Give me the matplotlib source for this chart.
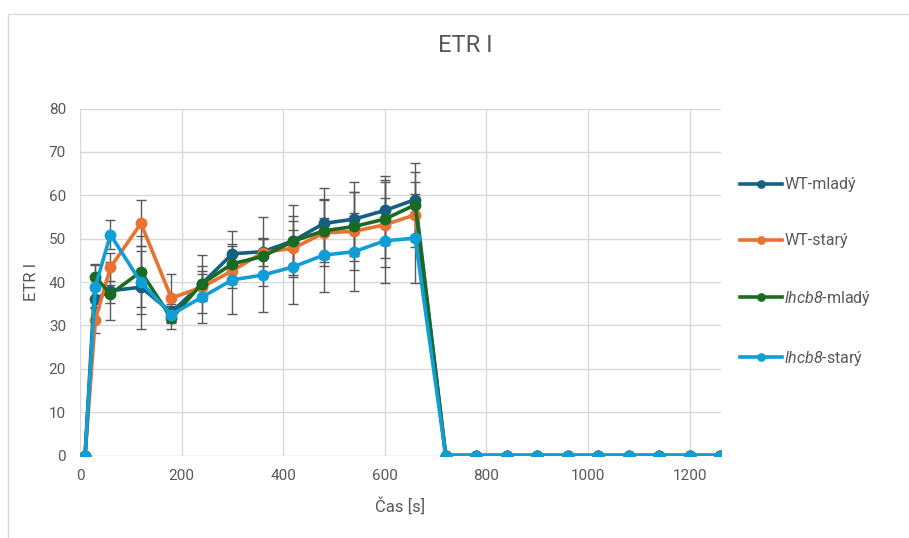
import matplotlib
matplotlib.use("Agg")
import matplotlib.pyplot as plt
from matplotlib.patches import Rectangle

plt.rcParams['font.family'] = ['Roboto', 'DejaVu Sans']
plt.rcParams['mathtext.fontset'] = 'custom'
plt.rcParams['mathtext.sf'] = 'Roboto:italic'
plt.rcParams['mathtext.it'] = 'Roboto:italic'
plt.rcParams['mathtext.rm'] = 'Roboto'

time_s = [10, 30, 60, 120, 180, 240, 300, 360, 420, 480, 540, 600, 660,
          720, 780, 840, 900, 960, 1020, 1080, 1140, 1200, 1260]

wt_mlady = [0, 36.0, 38.0, 38.8, 33.0, 39.6, 46.5, 47.0, 49.5, 53.5, 54.5, 56.5, 59.0,
            0, 0, 0, 0, 0, 0, 0, 0, 0, 0]
wt_stary = [0, 31.3, 43.4, 53.5, 36.3, 38.8, 42.6, 46.8, 47.8, 51.3, 51.7, 53.2, 55.5,
            0, 0, 0, 0, 0, 0, 0, 0, 0, 0]
lhcb8_mlady = [0, 41.2, 37.2, 42.4, 31.6, 39.6, 44.2, 45.9, 49.4, 51.8, 52.8, 54.5, 57.8,
               0, 0, 0, 0, 0, 0, 0, 0, 0, 0]
lhcb8_stary = [0, 38.9, 50.9, 39.9, 32.5, 36.5, 40.5, 41.6, 43.5, 46.2, 47.0, 49.5, 50.1,
               0, 0, 0, 0, 0, 0, 0, 0, 0, 0]

err_wt_mlady = [0, 5.0, 6.7, 9.6, 2.0, 4.0, 5.3, 7.9, 8.3, 8.2, 8.5, 8.0, 8.4,
                0, 0, 0, 0, 0, 0, 0, 0, 0, 0]
err_wt_stary = [0, 3.0, 3.2, 5.3, 5.6, 3.0, 4.0, 3.2, 6.3, 7.6, 9.0, 9.8, 7.5,
                0, 0, 0, 0, 0, 0, 0, 0, 0, 0]
err_lhcb8_mlady = [0, 3.0, 2.0, 8.1, 2.5, 6.7, 4.6, 4.0, 5.9, 7.3, 8.0, 9.0, 7.5,
                   0, 0, 0, 0, 0, 0, 0, 0, 0, 0]
err_lhcb8_stary = [0, 5.0, 3.3, 7.3, 2.0, 6.0, 7.9, 8.6, 8.6, 8.6, 9.0, 9.8, 10.3,
                   0, 0, 0, 0, 0, 0, 0, 0, 0, 0]

labels = ['WT-mladý', 'WT-starý', r'$\mathsf{lhcb8}$-mladý', r'$\mathsf{lhcb8}$-starý']
colors = ['#156082', '#E97132', '#196B24', '#0F9ED5']
series = [wt_mlady, wt_stary, lhcb8_mlady, lhcb8_stary]
errors = [err_wt_mlady, err_wt_stary, err_lhcb8_mlady, err_lhcb8_stary]

x_ticks = [0, 200, 400, 600, 800, 1000, 1200]
y_ticks = [0, 10, 20, 30, 40, 50, 60, 70, 80]

text_color = '#595959'
grid_color = '#d9d9d9'

fig = plt.figure(figsize=(9.09, 5.38), dpi=100)
fig.patch.set_facecolor('white')
fig.add_artist(Rectangle((8 / 909, -0.1), 1.2, 1.1 - 14 / 538, transform=fig.transFigure,
                         fill=False, edgecolor=grid_color, linewidth=1.0))

ax = fig.add_axes([80 / 909, 1 - 455.5 / 538, 641 / 909, 347 / 538])

for y, e in zip(series, errors):
    ax.errorbar(time_s, y, yerr=e, fmt='none', ecolor='#5a5a5a', elinewidth=1.0,
                capsize=3.5, capthick=1.0, zorder=2)
for y, c, lab in zip(series, colors, labels):
    ax.plot(time_s, y, color=c, linewidth=2.6, marker='o', markersize=7.5,
            label=lab, zorder=3)

ax.set_xlim(0, 1262)
ax.set_ylim(0, 80)
ax.set_xticks(x_ticks)
ax.set_yticks(y_ticks)
ax.grid(True, color=grid_color, linewidth=1.0, zorder=0)
ax.set_axisbelow(True)
for s in ax.spines.values():
    s.set_visible(False)
ax.tick_params(length=0, labelsize=11, labelcolor=text_color)
ax.tick_params(axis='y', pad=10)
ax.tick_params(axis='x', pad=10)

ax.set_xlabel('Čas [s]', fontsize=12, color=text_color, labelpad=10)
ax.set_ylabel('ETR I', fontsize=12, color=text_color, labelpad=7)
fig.text(465 / 909, 1 - 46 / 538, 'ETR I', ha='center', va='center', fontsize=17,
         color=text_color)

leg = ax.legend(loc='upper left', bbox_to_anchor=(726 / 909, 1 - 163 / 538),
                bbox_transform=fig.transFigure, frameon=False, fontsize=11.5,
                labelspacing=2.55, handlelength=2.6, handletextpad=0.15,
                labelcolor=text_color, markerscale=0.7)

fig.savefig('out.png', dpi=100, facecolor='white')
